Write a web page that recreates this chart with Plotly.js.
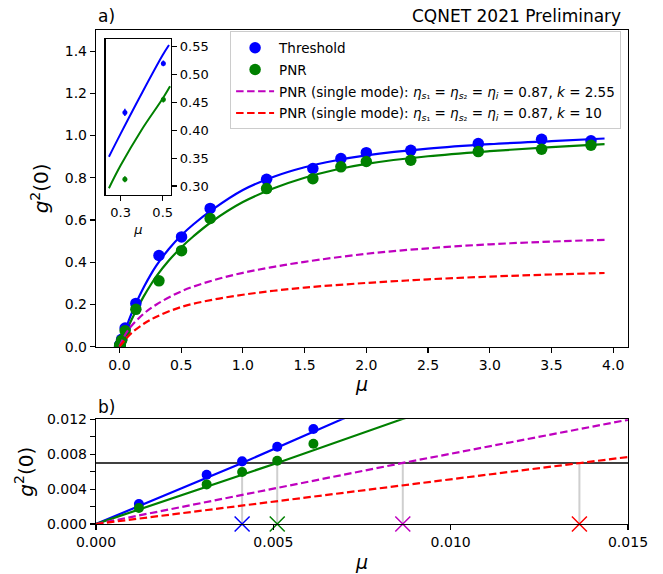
<!DOCTYPE html>
<html>
<head>
<meta charset="utf-8">
<script src="https://cdn.plot.ly/plotly-3.0.1.min.js"></script>
<style>html,body{margin:0;padding:0;background:#fff;}#chart{width:663px;height:574px;}</style>
</head>
<body>
<div id="chart"></div>
<script>
// ---- measured data points ----
const muData = [0.00121, 0.00312, 0.00412, 0.00511, 0.00613, 0.018, 0.046, 0.133, 0.32, 0.503, 0.735, 1.192, 1.567, 1.794, 2.0, 2.36, 2.907, 3.42, 3.82];
const g2Threshold = [0.00229, 0.00565, 0.00718, 0.00886, 0.01089, 0.035, 0.088, 0.205, 0.432, 0.52, 0.655, 0.793, 0.844, 0.891, 0.919, 0.93, 0.962, 0.982, 0.975];
const g2PNR = [0.00183, 0.00454, 0.00596, 0.00725, 0.0092, 0.03, 0.075, 0.177, 0.312, 0.455, 0.607, 0.749, 0.796, 0.852, 0.877, 0.883, 0.924, 0.935, 0.954];
const errThreshold = [0.00003, 0.00007, 0.00009, 0.0001, 0.00012, 0.0005, 0.0012, 0.003, 0.0066, 0.005, 0.006, 0.006, 0.006, 0.006, 0.006, 0.006, 0.006, 0.006, 0.006];
const errPNR = [0.00003, 0.00006, 0.00008, 0.00009, 0.00011, 0.0004, 0.001, 0.0025, 0.0054, 0.005, 0.006, 0.006, 0.006, 0.006, 0.006, 0.006, 0.006, 0.006, 0.006];

// ---- model curves, top panel ----
const muCurve = [0, 0.05, 0.1, 0.15, 0.2, 0.25, 0.3, 0.4, 0.5, 0.6, 0.75, 1.0, 1.25, 1.5, 1.75, 2.0, 2.5, 3.0, 3.5, 3.93];
const g2ThrCurve = [0, 0.084, 0.16, 0.226, 0.285, 0.338, 0.385, 0.463, 0.527, 0.58, 0.648, 0.742, 0.805, 0.85, 0.882, 0.906, 0.938, 0.959, 0.974, 0.986];
const g2PNRCurve = [0, 0.067, 0.13, 0.188, 0.242, 0.29, 0.334, 0.408, 0.47, 0.523, 0.593, 0.685, 0.75, 0.8, 0.838, 0.866, 0.902, 0.926, 0.945, 0.959];
const muSingle = [0, 0.05, 0.1, 0.2, 0.3, 0.5, 0.75, 1.0, 1.25, 1.5, 2.0, 2.5, 3.0, 3.5, 3.93];
const g2SingleK255 = [0, 0.06, 0.1, 0.158, 0.2, 0.262, 0.313, 0.35, 0.378, 0.402, 0.44, 0.466, 0.485, 0.498, 0.506];
const g2SingleK10 = [0, 0.036, 0.066, 0.11, 0.142, 0.188, 0.222, 0.246, 0.265, 0.28, 0.302, 0.319, 0.332, 0.342, 0.349];

// ---- inset curves ----
const muInsetThr = [0.244, 0.3, 0.4, 0.5, 0.53];
const g2InsetThr = [0.3525, 0.394, 0.466, 0.535, 0.553];
const muInsetPNR = [0.244, 0.3, 0.4, 0.5, 0.535];
const g2InsetPNR = [0.296, 0.337, 0.401, 0.457, 0.479];

// ---- bottom panel (low mu) curves ----
const muLowThr = [0, 0.00412, 0.00693, 0.008];
const g2LowThr = [0, 0.007, 0.012, 0.0138];
const muLowPNR = [0, 0.00511, 0.00862, 0.01];
const g2LowPNR = [0, 0.007, 0.012, 0.0139];
const muLowK255 = [0, 0.00865, 0.015];
const g2LowK255 = [0, 0.007, 0.01195];
const muLowK10 = [0, 0.01363, 0.015];
const g2LowK10 = [0, 0.007, 0.00768];
const threshold = 0.007;
const crossMu = [0.00412, 0.00511, 0.00865, 0.01363];

const BLUE = '#0000ff', GREEN = '#008000', MAG = '#bf00bf', RED = '#ff0000';
const crossColors = [BLUE, GREEN, MAG, RED];

const legText1 = 'PNR (single mode): <i>η</i><sub><i>s</i>₁</sub> = <i>η</i><sub><i>s</i>₂</sub> = <i>η<sub>i</sub></i> = 0.87, <i>k</i> = 2.55';
const legText2 = 'PNR (single mode): <i>η</i><sub><i>s</i>₁</sub> = <i>η</i><sub><i>s</i>₂</sub> = <i>η<sub>i</sub></i> = 0.87, <i>k</i> = 10';

const traces = [];
// top panel
traces.push({x: muCurve, y: g2ThrCurve, xaxis: 'x', yaxis: 'y', mode: 'lines', line: {color: BLUE, width: 2.2, shape: 'spline'}, showlegend: false, hoverinfo: 'skip'});
traces.push({x: muCurve, y: g2PNRCurve, xaxis: 'x', yaxis: 'y', mode: 'lines', line: {color: GREEN, width: 2.2, shape: 'spline'}, showlegend: false, hoverinfo: 'skip'});
traces.push({x: muData, y: g2Threshold, xaxis: 'x', yaxis: 'y', mode: 'markers', name: 'Threshold', legendgroup: 'a', marker: {color: BLUE, size: 11.5}, error_y: {type: 'data', array: errThreshold, color: BLUE, thickness: 1.5, width: 0}});
traces.push({x: muData, y: g2PNR, xaxis: 'x', yaxis: 'y', mode: 'markers', name: 'PNR', legendgroup: 'b', marker: {color: GREEN, size: 11.5}, error_y: {type: 'data', array: errPNR, color: GREEN, thickness: 1.5, width: 0}});
traces.push({x: muSingle, y: g2SingleK255, xaxis: 'x', yaxis: 'y', mode: 'lines', name: legText1, legendgroup: 'c', line: {color: MAG, width: 2.2, dash: '7.5px,3.5px', shape: 'spline'}});
traces.push({x: muSingle, y: g2SingleK10, xaxis: 'x', yaxis: 'y', mode: 'lines', name: legText2, legendgroup: 'd', line: {color: RED, width: 2.2, dash: '7.5px,3.5px', shape: 'spline'}});

// inset
traces.push({x: muInsetThr, y: g2InsetThr, xaxis: 'x3', yaxis: 'y3', mode: 'lines', line: {color: BLUE, width: 2, shape: 'spline'}, showlegend: false, hoverinfo: 'skip'});
traces.push({x: muInsetPNR, y: g2InsetPNR, xaxis: 'x3', yaxis: 'y3', mode: 'lines', line: {color: GREEN, width: 2, shape: 'spline'}, showlegend: false, hoverinfo: 'skip'});
traces.push({x: muData, y: g2Threshold, xaxis: 'x3', yaxis: 'y3', mode: 'markers', marker: {color: BLUE, size: 5}, error_y: {type: 'data', array: errThreshold, color: BLUE, thickness: 1.5, width: 0}, showlegend: false});
traces.push({x: muData, y: g2PNR, xaxis: 'x3', yaxis: 'y3', mode: 'markers', marker: {color: GREEN, size: 5}, error_y: {type: 'data', array: errPNR, color: GREEN, thickness: 1.5, width: 0}, showlegend: false});

// bottom panel
crossMu.forEach((m, i) => {
  traces.push({x: [m, m], y: [0, threshold], xaxis: 'x2', yaxis: 'y2', mode: 'lines', line: {color: '#cfcfcf', width: 2}, showlegend: false, hoverinfo: 'skip'});
});
traces.push({x: [0, 0.015], y: [threshold, threshold], xaxis: 'x2', yaxis: 'y2', mode: 'lines', line: {color: '#000', width: 1.6}, showlegend: false, hoverinfo: 'skip'});
traces.push({x: muLowThr, y: g2LowThr, xaxis: 'x2', yaxis: 'y2', mode: 'lines', line: {color: BLUE, width: 2.2}, showlegend: false});
traces.push({x: muLowPNR, y: g2LowPNR, xaxis: 'x2', yaxis: 'y2', mode: 'lines', line: {color: GREEN, width: 2.2}, showlegend: false});
traces.push({x: muLowK255, y: g2LowK255, xaxis: 'x2', yaxis: 'y2', mode: 'lines', line: {color: MAG, width: 2.2, dash: '7.5px,3.5px'}, showlegend: false});
traces.push({x: muLowK10, y: g2LowK10, xaxis: 'x2', yaxis: 'y2', mode: 'lines', line: {color: RED, width: 2.2, dash: '7.5px,3.5px'}, showlegend: false});
traces.push({x: muData, y: g2Threshold, xaxis: 'x2', yaxis: 'y2', mode: 'markers', marker: {color: BLUE, size: 10}, showlegend: false});
traces.push({x: muData, y: g2PNR, xaxis: 'x2', yaxis: 'y2', mode: 'markers', marker: {color: GREEN, size: 10}, showlegend: false});
traces.push({x: crossMu, y: crossMu.map(() => 0), xaxis: 'x2', yaxis: 'y2', mode: 'markers', cliponaxis: false,
  marker: {symbol: 'x-thin-open', size: 15, color: crossColors, line: {color: crossColors, width: 1.5}}, showlegend: false});

const FONT = 'DejaVu Sans, sans-serif';
const tickFont = {family: FONT, size: 14, color: '#000'};
const axBase = {showline: true, mirror: true, linecolor: '#000', linewidth: 1.2, ticks: 'outside', ticklen: 5, tickwidth: 1.2, tickcolor: '#000', showgrid: false, zeroline: false, tickfont: tickFont};

const layout = {
  width: 663, height: 574,
  margin: {l: 96, r: 35, t: 30, b: 50},
  paper_bgcolor: '#fff', plot_bgcolor: '#fff',
  font: {family: FONT, color: '#000'},
  xaxis: Object.assign({}, axBase, {domain: [0, 1], anchor: 'y', range: [-0.19, 4.12], tickvals: [0, 0.5, 1, 1.5, 2, 2.5, 3, 3.5, 4], tickformat: '.1f',
    title: {text: '<i>μ</i>', font: {family: FONT, size: 19}, standoff: 6}}),
  yaxis: Object.assign({}, axBase, {domain: [0.3589, 1], anchor: 'x', range: [0, 1.5], tickvals: [0, 0.2, 0.4, 0.6, 0.8, 1.0, 1.2, 1.4], tickformat: '.1f',
    title: {text: '<i>g</i><sup>2</sup>(0)', font: {family: FONT, size: 20}, standoff: 10}}),
  xaxis2: Object.assign({}, axBase, {domain: [0, 1], anchor: 'y2', range: [0, 0.015], tickvals: [0, 0.005, 0.01, 0.015], tickformat: '.3f',
    title: {text: '<i>μ</i>', font: {family: FONT, size: 19}, standoff: 6}}),
  yaxis2: Object.assign({}, axBase, {domain: [0, 0.2119], anchor: 'x2', range: [0, 0.012], tickvals: [0, 0.004, 0.008, 0.012], tickformat: '.3f',
    minor: {tickvals: [0.002, 0.006, 0.01], ticklen: 5, tickwidth: 1.2, tickcolor: '#000', ticks: 'outside'},
    title: {text: '<i>g</i><sup>2</sup>(0)', font: {family: FONT, size: 20}, standoff: 8}}),
  xaxis3: Object.assign({}, axBase, {domain: [0.0182, 0.141], anchor: 'y3', range: [0.2286, 0.5395], tickvals: [0.3, 0.5], tickformat: '.1f', tickfont: {family: FONT, size: 13},
    title: {text: '<i>μ</i>', font: {family: FONT, size: 13}, standoff: 6}}),
  yaxis3: Object.assign({}, axBase, {domain: [0.666, 0.9818], anchor: 'x3', side: 'right', range: [0.2838, 0.5638], tickvals: [0.3, 0.35, 0.4, 0.45, 0.5, 0.55], tickformat: '.2f', tickfont: {family: FONT, size: 13}}),
  legend: {x: 0.987, y: 0.997, xanchor: 'right', yanchor: 'top', bgcolor: '#fff', bordercolor: '#cccccc', borderwidth: 1,
    font: {family: FONT, size: 13.5, color: '#000'}, tracegroupgap: 1.2, traceorder: 'grouped', itemwidth: 38},
  annotations: [
    {xref: 'paper', yref: 'paper', x: 0, y: 1.028, xanchor: 'left', yanchor: 'middle', text: 'a)', showarrow: false, font: {family: FONT, size: 17}},
    {xref: 'paper', yref: 'paper', x: 0.99, y: 1.028, xanchor: 'right', yanchor: 'middle', text: 'CQNET 2021 Preliminary', showarrow: false, font: {family: FONT, size: 17}},
    {xref: 'paper', yref: 'paper', x: 0, y: 0.2368, xanchor: 'left', yanchor: 'middle', text: 'b)', showarrow: false, font: {family: FONT, size: 17}}
  ]
};

Plotly.newPlot('chart', traces, layout, {staticPlot: true, displayModeBar: false});
</script>
</body>
</html>
